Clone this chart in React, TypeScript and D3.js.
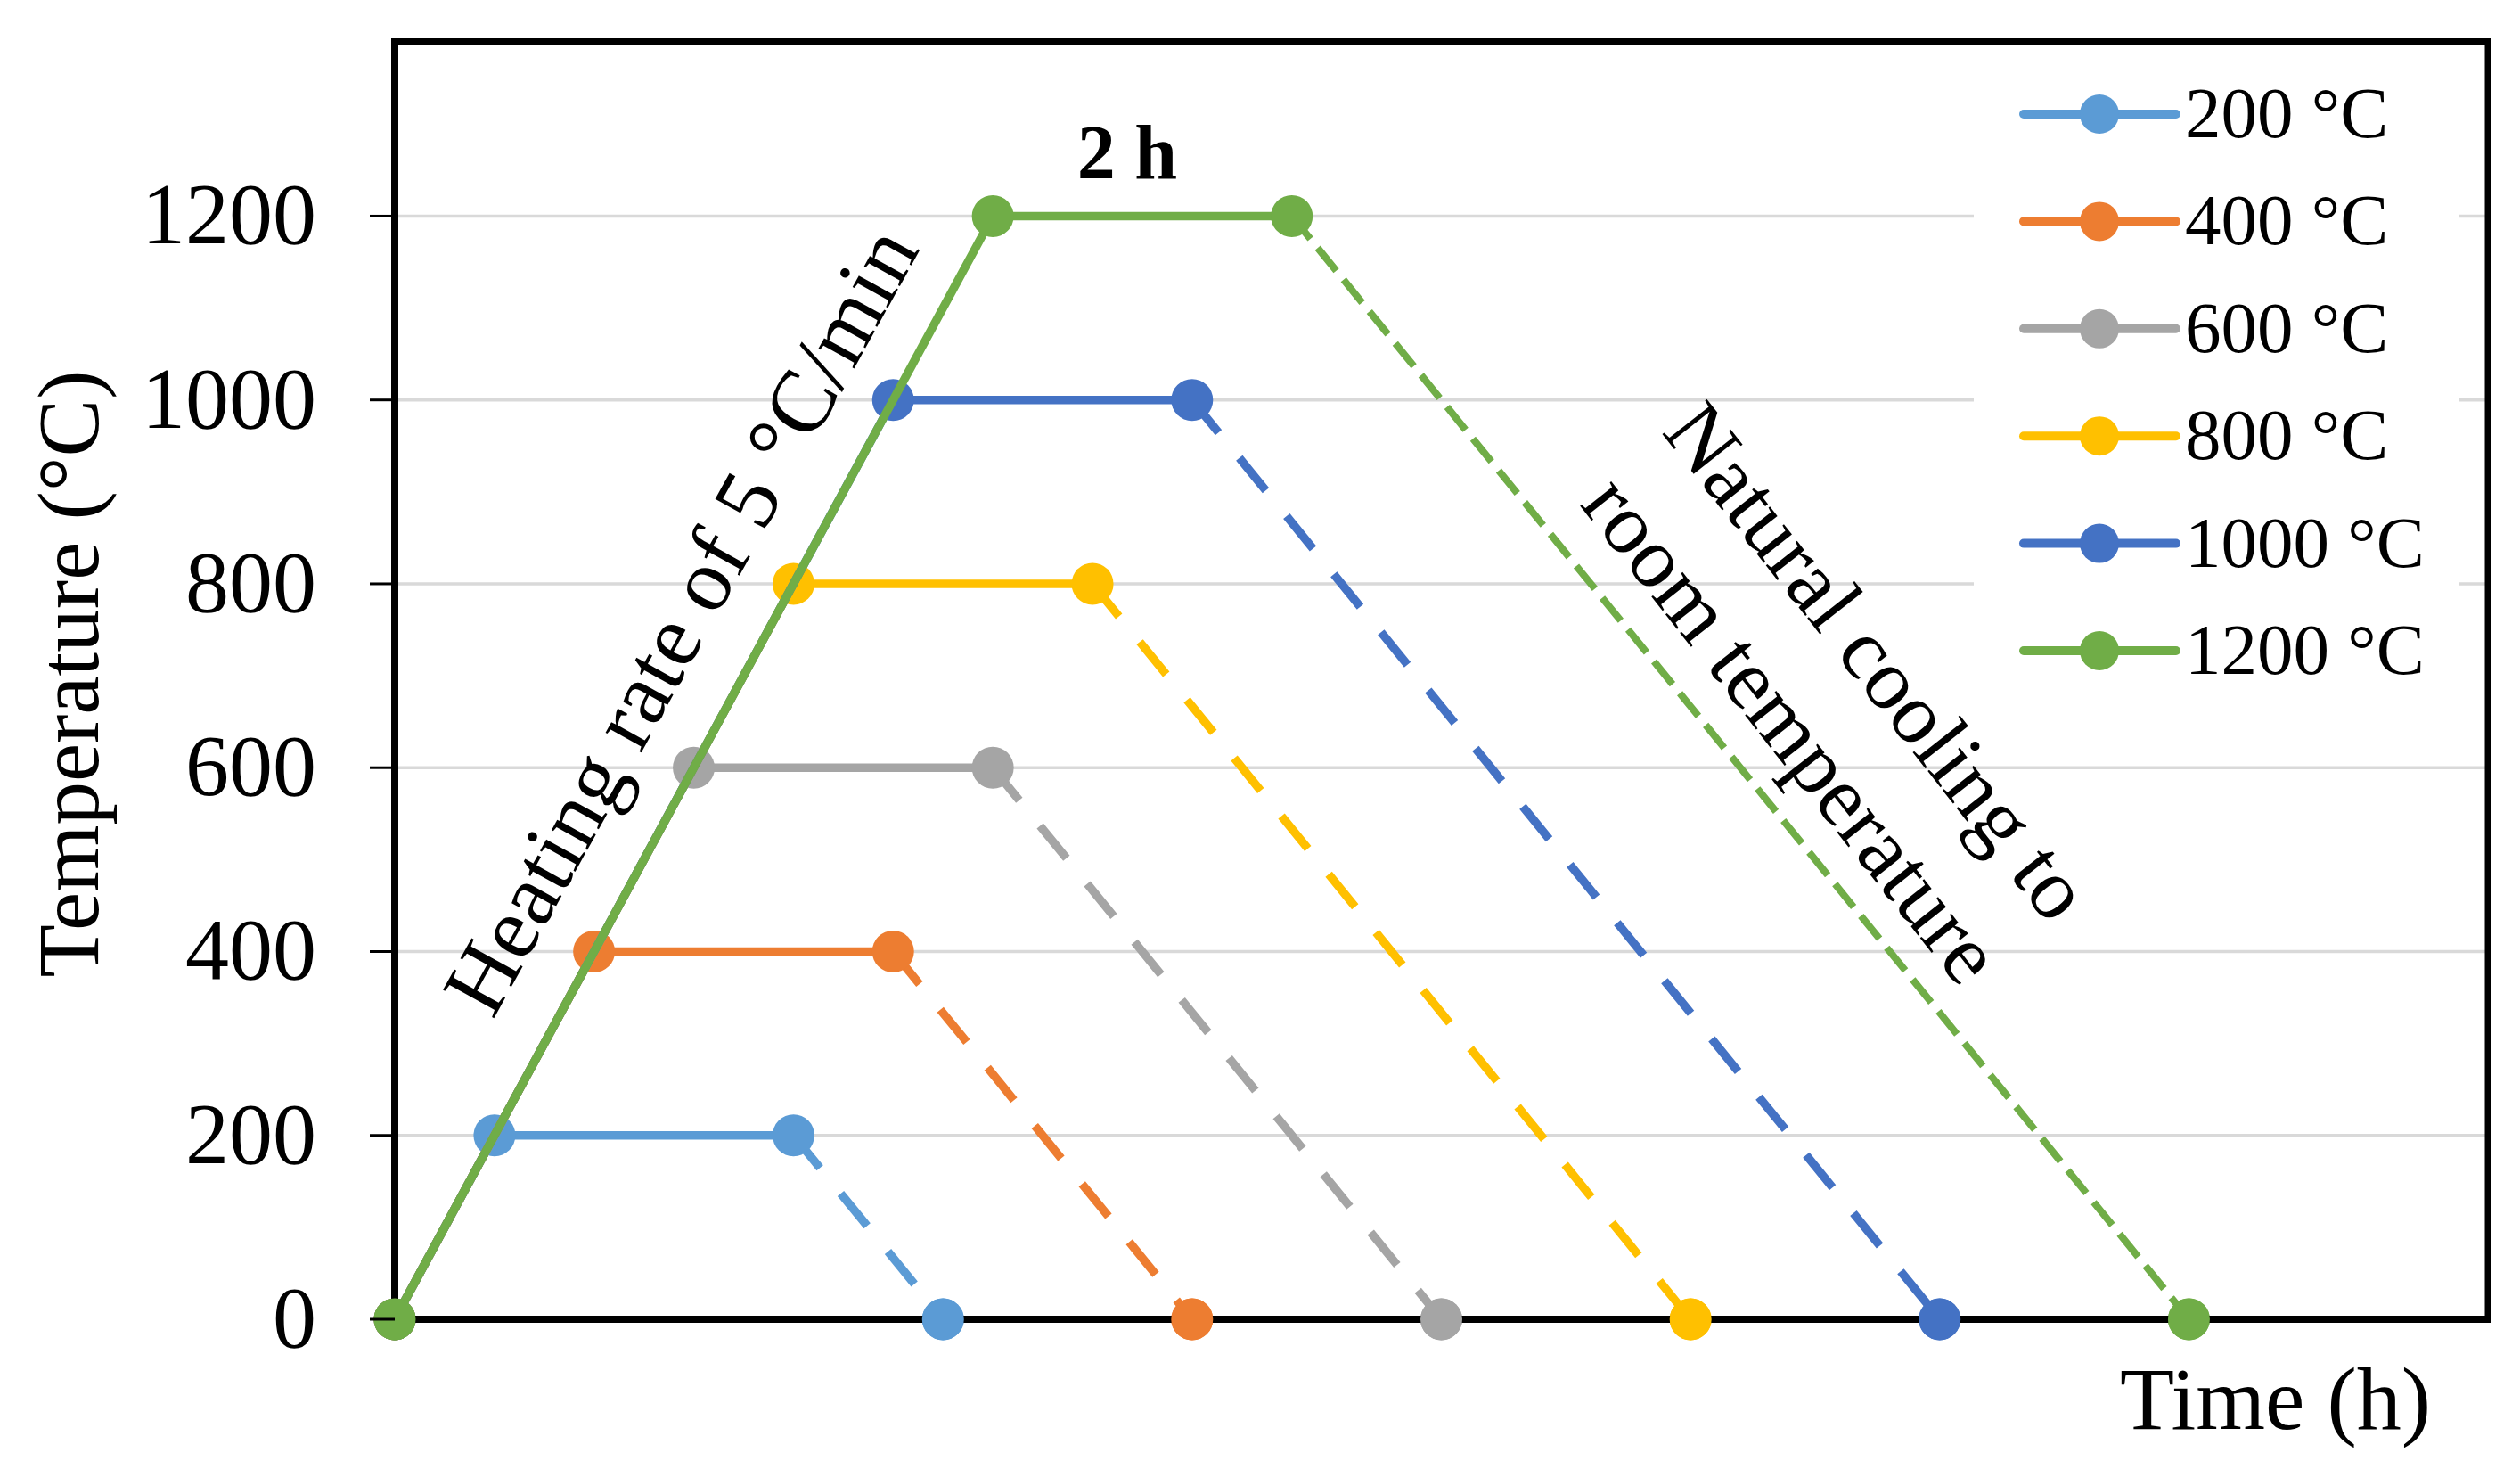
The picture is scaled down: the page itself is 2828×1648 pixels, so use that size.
import React from "react";
import * as d3 from "d3";

const seriesNames = ["200 °C", "400 °C", "600 °C", "800 °C", "1000 °C", "1200 °C"];
const seriesColors = ["#5B9BD5", "#ED7D31", "#A5A5A5", "#FFC000", "#4472C4", "#70AD47"];
// time (h) of each point: start, end of heating, end of holding, end of cooling
const time200 = [0, 0.667, 2.667, 3.667];
const time400 = [0, 1.333, 3.333, 5.333];
const time600 = [0, 2, 4, 7];
const time800 = [0, 2.667, 4.667, 8.667];
const time1000 = [0, 3.333, 5.333, 10.333];
const time1200 = [0, 4, 6, 12];
const temp200 = [0, 200, 200, 0];
const temp400 = [0, 400, 400, 0];
const temp600 = [0, 600, 600, 0];
const temp800 = [0, 800, 800, 0];
const temp1000 = [0, 1000, 1000, 0];
const temp1200 = [0, 1200, 1200, 0];
const yTicks = [0, 200, 400, 600, 800, 1000, 1200];

const times = [time200, time400, time600, time800, time1000, time1200];
const temps = [temp200, temp400, temp600, temp800, temp1000, temp1200];

const FONT = "'Liberation Serif', 'Times New Roman', serif";

export default function App() {
  const W = 2828, H = 1648;
  const left = 443, right = 2792, top = 46.5, bottom = 1480;
  const x = d3.scaleLinear().domain([0, 14]).range([left, right]);
  const y = d3.scaleLinear().domain([0, 1390]).range([bottom, top]);
  const line = d3.line<[number, number]>().x(d => x(d[0])).y(d => y(d[1]));

  const series = times.map((t, i) => t.map((v, j) => [v, temps[i][j]] as [number, number]));

  return (
    <svg width={W} height={H} style={{ position: "absolute", left: 0, top: 0, display: "block", background: "#fff" }} fontFamily={FONT}>
      <rect x={0} y={0} width={W} height={H} fill="#fff" />
      {/* gridlines */}
      {yTicks.filter(v => v > 0).map(v => (
        <line key={"g" + v} x1={left} x2={right} y1={y(v)} y2={y(v)} stroke="#d9d9d9" strokeWidth={3.5} />
      ))}
      {/* series */}
      {series.map((pts, i) => {
        const isGreen = i === 5;
        return (
          <g key={"s" + i}>
            <path d={line(pts.slice(0, 3)) || ""} fill="none" stroke={seriesColors[i]} strokeWidth={9.5} strokeLinejoin="round" strokeLinecap="round" />
            <path d={line(pts.slice(2, 4)) || ""} fill="none" stroke={seriesColors[i]}
              strokeWidth={isGreen ? 8 : 9.5}
              strokeDasharray={isGreen ? "33 13" : "47 37"} />
            {pts.map((p, j) => (
              <circle key={j} cx={x(p[0])} cy={y(p[1])} r={23.5} fill={seriesColors[i]} />
            ))}
          </g>
        );
      })}
      {/* frame */}
      <rect x={left} y={top} width={right - left} height={bottom - top} fill="none" stroke="#000" strokeWidth={7} />
      <line x1={left} x2={right + 3.5} y1={bottom} y2={bottom} stroke="#000" strokeWidth={8} />
      <line x1={left} x2={left} y1={top - 3.5} y2={bottom + 4} stroke="#000" strokeWidth={8} />
      {series.map((pts, i) => (
        <circle key={"z" + i} cx={x(pts[3][0])} cy={y(pts[3][1])} r={23.5} fill={seriesColors[i]} />
      ))}
      <circle cx={x(0)} cy={y(0)} r={23.5} fill={seriesColors[5]} />
      {/* y ticks */}
      {yTicks.map(v => (
        <g key={"t" + v}>
          <line x1={left - 28} x2={left} y1={y(v)} y2={y(v)} stroke="#000" strokeWidth={3} />
          <text x={355} y={y(v) + 31} textAnchor="end" fontSize={98} fill="#000">{v}</text>
        </g>
      ))}
      {/* axis titles */}
      <text transform={`translate(110,756) rotate(-90)`} textAnchor="middle" fontSize={97} fill="#000">Temperature (°C)</text>
      <text x={2728} y={1603} textAnchor="end" fontSize={100} fill="#000">Time (h)</text>
      {/* annotations */}
      <text x={1265} y={200} textAnchor="middle" fontSize={86} fontWeight="bold" fill="#000">2 h</text>
      <text transform={`translate(793,712) rotate(-61)`} textAnchor="middle" fontSize={100} fill="#000">Heating rate of 5 °C/min</text>
      <text transform={`translate(2082,762) rotate(51.8)`} textAnchor="middle" fontSize={97} fill="#000">Natural cooling to</text>
      <text transform={`translate(1986,838) rotate(51.8)`} textAnchor="middle" fontSize={97} fill="#000">room temperature</text>
      {/* legend */}
      <rect x={2215} y={55} width={545} height={735} fill="#fff" />
      {seriesNames.map((n, i) => {
        const ly = 128 + i * 120.4;
        return (
          <g key={"l" + i}>
            <line x1={2271} x2={2442} y1={ly} y2={ly} stroke={seriesColors[i]} strokeWidth={10} strokeLinecap="round" />
            <circle cx={2356} cy={ly} r={22} fill={seriesColors[i]} />
            <text x={2452} y={ly + 26} fontSize={81} fill="#000">{n}</text>
          </g>
        );
      })}
    </svg>
  );
}
